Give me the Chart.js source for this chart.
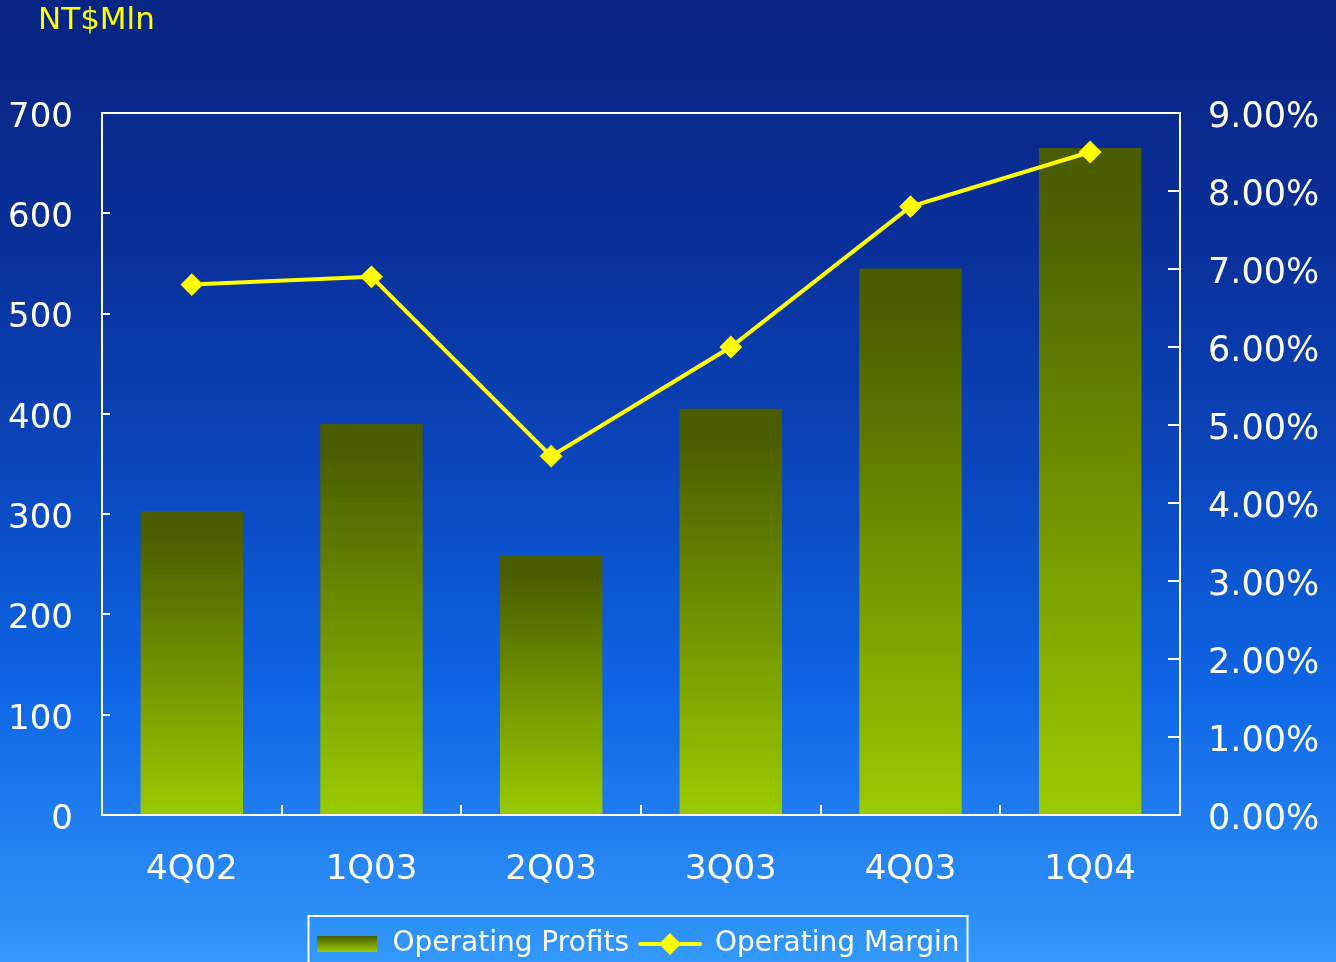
<!DOCTYPE html>
<html>
<head>
<meta charset="utf-8">
<script src="https://cdn.jsdelivr.net/npm/chart.js@4.4.0/dist/chart.umd.min.js"></script>
<style>
  html, body { margin: 0; padding: 0; background: #0a2a8a; }
  #wrap { width: 1336px; height: 962px; }
</style>
</head>
<body>
<div id="wrap"><canvas id="opChart" width="1336" height="962"></canvas></div>
<script>
var quarters = ['4Q02', '1Q03', '2Q03', '3Q03', '4Q03', '1Q04'];
var operatingProfits = [303, 390, 259, 405, 545, 665];   // NT$ Mln
var operatingMargin = [6.80, 6.90, 4.60, 6.00, 7.80, 8.50]; // percent
var profitTicks = [0, 100, 200, 300, 400, 500, 600, 700];
var marginTicks = [0, 1, 2, 3, 4, 5, 6, 7, 8, 9];

var FONT = '"DejaVu Sans", Verdana, sans-serif';
var OLIVE_TOP = '#4a5c00';
var OLIVE_BOTTOM = '#9acb00';
var YELLOW = '#ffff00';
var BOTTOM_PAD = -6;
var LEGEND_SHIFT = -30;

function barFill(ctx) {
    var chart = ctx.chart;
    if (!chart.chartArea || ctx.type !== 'data') return '#7a9e00';
    var y = chart.scales.y;
    var top = y.getPixelForValue(ctx.raw);
    var bottom = y.getPixelForValue(0);
    var g = chart.ctx.createLinearGradient(0, top, 0, bottom);
    g.addColorStop(0, OLIVE_TOP);
    g.addColorStop(0.08, '#4b5e00');
    g.addColorStop(1, OLIVE_BOTTOM);
    return g;
}

// legend swatches, indexed by dataset
function barSwatch() {
    var c = document.createElement('canvas');
    c.width = 60; c.height = 16;
    var x = c.getContext('2d');
    var g = x.createLinearGradient(0, 0, 0, 16);
    g.addColorStop(0, OLIVE_TOP);
    g.addColorStop(1, OLIVE_BOTTOM);
    x.fillStyle = g;
    x.fillRect(0, 0, 60, 16);
    return c;
}
function lineSwatch() {
    var c = document.createElement('canvas');
    c.width = 64; c.height = 24;
    var x = c.getContext('2d');
    x.strokeStyle = YELLOW;
    x.lineWidth = 4;
    x.lineCap = 'round';
    x.beginPath(); x.moveTo(2, 12); x.lineTo(62, 12); x.stroke();
    x.fillStyle = YELLOW;
    x.beginPath();
    x.moveTo(32, 1); x.lineTo(43, 12); x.lineTo(32, 23); x.lineTo(21, 12);
    x.closePath(); x.fill();
    return c;
}
var swatches = [barSwatch(), lineSwatch()];

var backdrop = {
    id: 'backdrop',
    afterLayout: function(chart) {
        // legend sits a little left of centre
        chart.legend.left += LEGEND_SHIFT;
        chart.legend.right += LEGEND_SHIFT;
    },
    beforeDraw: function(chart) {
        var c = chart.ctx;
        var g = c.createLinearGradient(0, 0, 0, chart.height);
        g.addColorStop(0, '#072582');
        g.addColorStop(0.25, '#0a3099');
        g.addColorStop(0.5, '#0a48bf');
        g.addColorStop(0.72, '#0e66e4');
        g.addColorStop(1, '#3398fb');
        c.save();
        c.fillStyle = g;
        c.fillRect(0, 0, chart.width, chart.height);
        c.fillStyle = YELLOW;
        c.font = '31px ' + FONT;
        c.textBaseline = 'middle';
        c.fillText('NT$Mln', 38, 21);
        c.restore();
    },
    afterDraw: function(chart) {
        var c = chart.ctx, a = chart.chartArea;
        var xs = chart.scales.x, yl = chart.scales.y, yr = chart.scales.y1;
        c.save();
        c.strokeStyle = '#ffffff';
        c.lineWidth = 2;
        c.strokeRect(a.left, a.top, a.right - a.left, a.bottom - a.top);
        c.beginPath();
        for (var i = 1; i < quarters.length; i++) {
            var px = Math.round((xs.getPixelForValue(i - 1) + xs.getPixelForValue(i)) / 2);
            c.moveTo(px, a.bottom); c.lineTo(px, a.bottom - 10);
        }
        yl.ticks.forEach(function(t) {
            var py = Math.round(yl.getPixelForValue(t.value));
            c.moveTo(a.left, py); c.lineTo(a.left + 8, py);
        });
        yr.ticks.forEach(function(t) {
            var py = Math.round(yr.getPixelForValue(t.value));
            c.moveTo(a.right, py); c.lineTo(a.right - 12, py);
        });
        c.stroke();
        // frame round the legend row
        var lg = chart.legend, boxes = lg.legendHitBoxes;
        if (boxes && boxes.length) {
            var total = 0;
            boxes.forEach(function(b) { total += b.width; });
            total += lg.options.labels.padding * (boxes.length - 1);
            var mid = (lg.left + lg.right) / 2;
            var l = mid - total / 2 - 8;
            c.strokeRect(l, lg.top - 4, total + 16, chart.height);
        }
        c.restore();
    }
};

var chart = new Chart(document.getElementById('opChart'), {
    type: 'bar',
    data: {
        labels: quarters,
        datasets: [{
            type: 'bar',
            label: 'Operating Profits',
            data: operatingProfits,
            yAxisID: 'y',
            backgroundColor: barFill,
            borderWidth: 0,
            categoryPercentage: 1,
            barPercentage: 0.57,
            order: 1
        }, {
            type: 'line',
            label: 'Operating Margin',
            data: operatingMargin,
            yAxisID: 'y1',
            borderColor: YELLOW,
            backgroundColor: YELLOW,
            borderWidth: 4,
            pointStyle: 'rectRot',
            pointRadius: 10,
            pointBorderWidth: 2,
            tension: 0,
            order: 0
        }]
    },
    options: {
        responsive: false,
        animation: false,
        layout: { padding: { top: 113, left: 0, right: 0, bottom: BOTTOM_PAD } },
        plugins: {
            tooltip: { enabled: false },
            legend: {
                position: 'bottom',
                labels: {
                    color: '#ffffff',
                    font: { family: FONT, size: 28 },
                    usePointStyle: true,
                    pointStyleWidth: 62,
                    padding: 10,
                    sort: function(a, b) { return a.datasetIndex - b.datasetIndex; },
                    generateLabels: function(ch) {
                        var items = Chart.defaults.plugins.legend.labels.generateLabels(ch);
                        items.forEach(function(it) { it.pointStyle = swatches[it.datasetIndex]; });
                        return items;
                    }
                }
            }
        },
        scales: {
            x: {
                offset: true,
                grid: { display: false },
                border: { display: false },
                ticks: { color: '#ffffff', font: { family: FONT, size: 34 }, padding: 27, maxRotation: 0 },
                afterFit: function(s) { s.height = 147 - (s.chart.legend.height + BOTTOM_PAD); }
            },
            y: {
                position: 'left',
                min: 0, max: 700,
                afterBuildTicks: function(s) { s.ticks = profitTicks.map(function(v) { return { value: v }; }); },
                grid: { display: false, drawTicks: false },
                border: { display: false },
                ticks: { color: '#ffffff', font: { family: FONT, size: 34 }, padding: 29, labelOffset: 5 },
                afterFit: function(s) { s.width = 102; }
            },
            y1: {
                position: 'right',
                min: 0, max: 9,
                afterBuildTicks: function(s) { s.ticks = marginTicks.map(function(v) { return { value: v }; }); },
                grid: { display: false, drawTicks: false },
                border: { display: false },
                ticks: {
                    color: '#ffffff', font: { family: FONT, size: 35 }, padding: 28, labelOffset: 5,
                    callback: function(v) { return v.toFixed(2) + '%'; }
                },
                afterFit: function(s) { s.width = 156; }
            }
        }
    },
    plugins: [backdrop]
});
</script>
</body>
</html>
